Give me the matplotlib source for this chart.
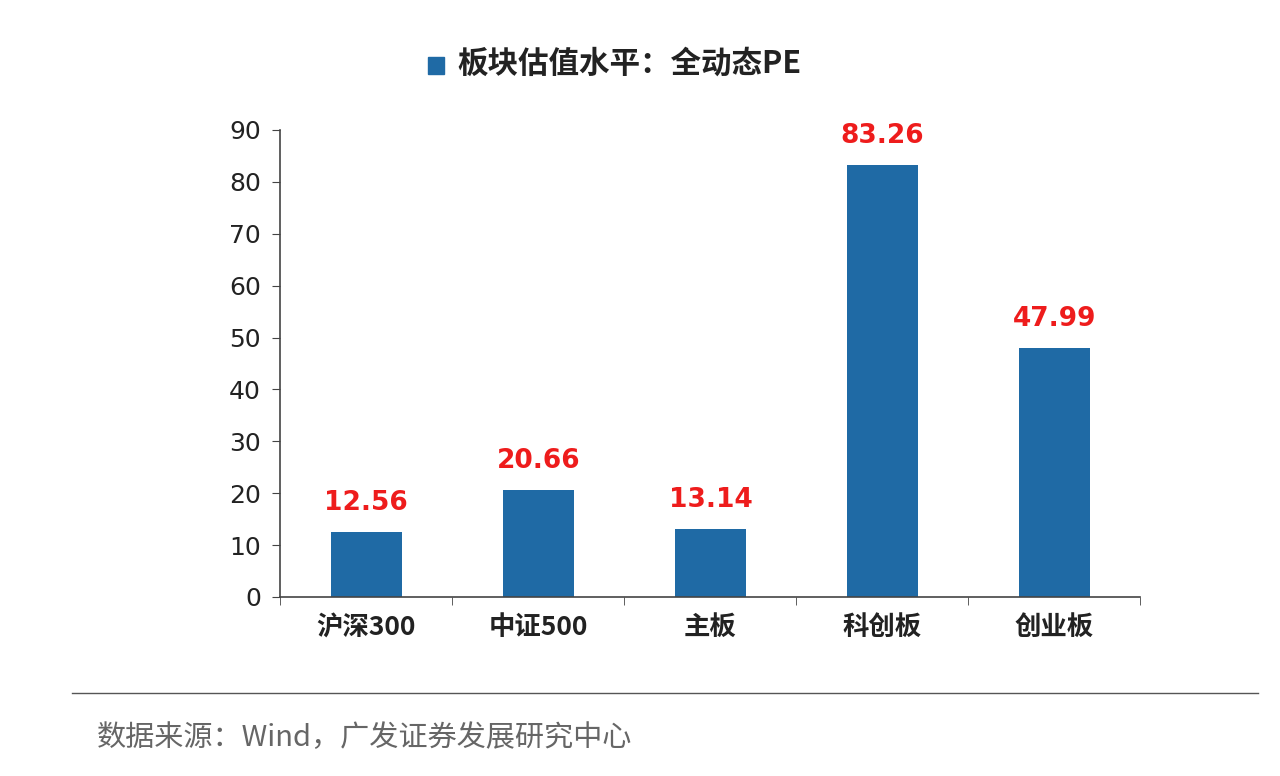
import matplotlib
matplotlib.use("Agg")
import matplotlib.pyplot as plt
from matplotlib.patches import Rectangle
from matplotlib.lines import Line2D

plt.rcParams['font.family'] = ['Noto Sans CJK SC', 'DejaVu Sans']

categories = ['沪深300', '中证500', '主板', '科创板', '创业板']
values = [12.56, 20.66, 13.14, 83.26, 47.99]
yticks = [0, 10, 20, 30, 40, 50, 60, 70, 80, 90]
legend_label = '板块估值水平：全动态PE'
source = '数据来源：Wind，广发证券发展研究中心'

color = '#1F6AA5'
fig = plt.figure(figsize=(12.8, 7.76), dpi=100)
ax = fig.add_axes([0.219, 0.2307, 0.672, 0.6018])
x = range(len(categories))
ax.bar(x, values, width=0.41, color=color)
for i, v in zip(x, values):
    ax.text(i, v + 3, f'{v:.2f}', ha='center', va='bottom', color='#EE1C1C',
            fontsize=19, fontweight='bold', family=['DejaVu Sans'])
ax.set_xlim(-0.5, len(categories) - 0.5)
ax.set_ylim(0, 90)
ax.set_yticks(yticks)
ax.set_yticklabels([str(t) for t in yticks], fontsize=18, color='#222222',
                   family=['DejaVu Sans'])
ax.set_xticks(list(x))
ax.set_xticklabels(categories, fontsize=19, fontweight='bold', color='#222222')
ax.set_xticks([i - 0.5 for i in range(len(categories) + 1)], minor=True)
ax.tick_params(axis='x', which='major', length=0, pad=12)
ax.tick_params(axis='x', which='minor', length=6, color='#444444')
ax.tick_params(axis='y', length=6, color='#444444', pad=8)
for s in ['top', 'right']:
    ax.spines[s].set_visible(False)
for s in ['left', 'bottom']:
    ax.spines[s].set_color('#444444')
    ax.spines[s].set_linewidth(1.2)

fig.patches.append(Rectangle((0.334, 0.905), 0.013, 0.022, transform=fig.transFigure,
                             color=color, figure=fig))
fig.text(0.357, 0.918, legend_label, fontsize=22, fontweight='bold', color='#222222',
         va='center', ha='left')
fig.lines.append(Line2D([0.056, 0.983], [0.107, 0.107], transform=fig.transFigure,
                        color='#555555', linewidth=1))
fig.text(0.076, 0.049, source, fontsize=21, color='#666666', va='center', ha='left')
fig.savefig('out.png', dpi=100)
